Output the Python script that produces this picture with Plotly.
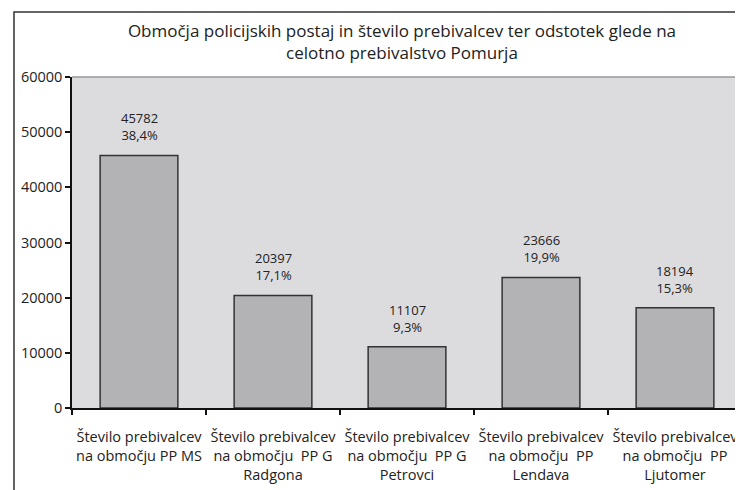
import plotly.graph_objects as go

# podatki
kategorije = [
    "Število prebivalcev<br>na območju PP MS",
    "Število prebivalcev<br>na območju  PP G<br>Radgona",
    "Število prebivalcev<br>na območju  PP G<br>Petrovci",
    "Število prebivalcev<br>na območju  PP<br>Lendava",
    "Število prebivalcev<br>na območju  PP<br>Ljutomer",
]
prebivalci = [45782, 20397, 11107, 23666, 18194]
odstotki = ["38,4%", "17,1%", "9,3%", "19,9%", "15,3%"]

fnt = "Open Sans, Noto Sans, sans-serif"

fig = go.Figure()
fig.add_trace(go.Bar(
    x=kategorije, y=prebivalci,
    marker=dict(color="#b3b3b6", line=dict(color="#333", width=1.5)),
    cliponaxis=False,
))

# oznake nad stolpci
for k, p, o in zip(kategorije, prebivalci, odstotki):
    fig.add_annotation(
        x=k, y=p, text=f"{p}<br>{o}", showarrow=False,
        yanchor="bottom", yshift=9,
        font=dict(size=13, color="#222", family=fnt),
    )

# stran ima 8px odmika (body margin), zato je slika manjša
fig.update_layout(
    width=735, height=482,
    margin=dict(l=64, r=1, t=69, b=82),
    paper_bgcolor="white", plot_bgcolor="#dcdcde",
    bargap=0.42, showlegend=False,
    font=dict(family=fnt, color="#222"),
    title=dict(
        text="Območja policijskih postaj in število prebivalcev ter odstotek glede na<br>celotno prebivalstvo Pomurja",
        x=0.536, xanchor="center", y=0.94, yanchor="top",
        font=dict(size=17, family=fnt, color="#222"),
    ),
    shapes=[
        dict(type="rect", xref="paper", yref="paper", x0=-0.0866, x1=1.05, y0=-0.4, y1=1.196,
             line=dict(color="#333", width=1.5), fillcolor="rgba(0,0,0,0)", layer="below"),
        dict(type="line", xref="paper", yref="paper", x0=0, x1=1, y0=1, y1=1,
             line=dict(color="#9a9a9a", width=1.5)),
    ],
)

fig.update_yaxes(
    range=[0, 60000], dtick=10000, tickformat="d", showgrid=False, zeroline=False,
    showline=True, linecolor="#111", linewidth=1.5,
    ticks="outside", ticklen=5, tickcolor="#111", tickwidth=1.5,
    tickfont=dict(size=14.5, family=fnt, color="#222"),
)
fig.update_xaxes(
    showgrid=False, showline=True, linecolor="#111", linewidth=1.5,
    ticks="outside", tickson="boundaries", ticklen=5, tickcolor="#111", tickwidth=1.5,
    tickfont=dict(size=14.5, family=fnt, color="#222"), tickangle=0,
    ticklabelstandoff=15,
)

fig.write_html("out.html")
